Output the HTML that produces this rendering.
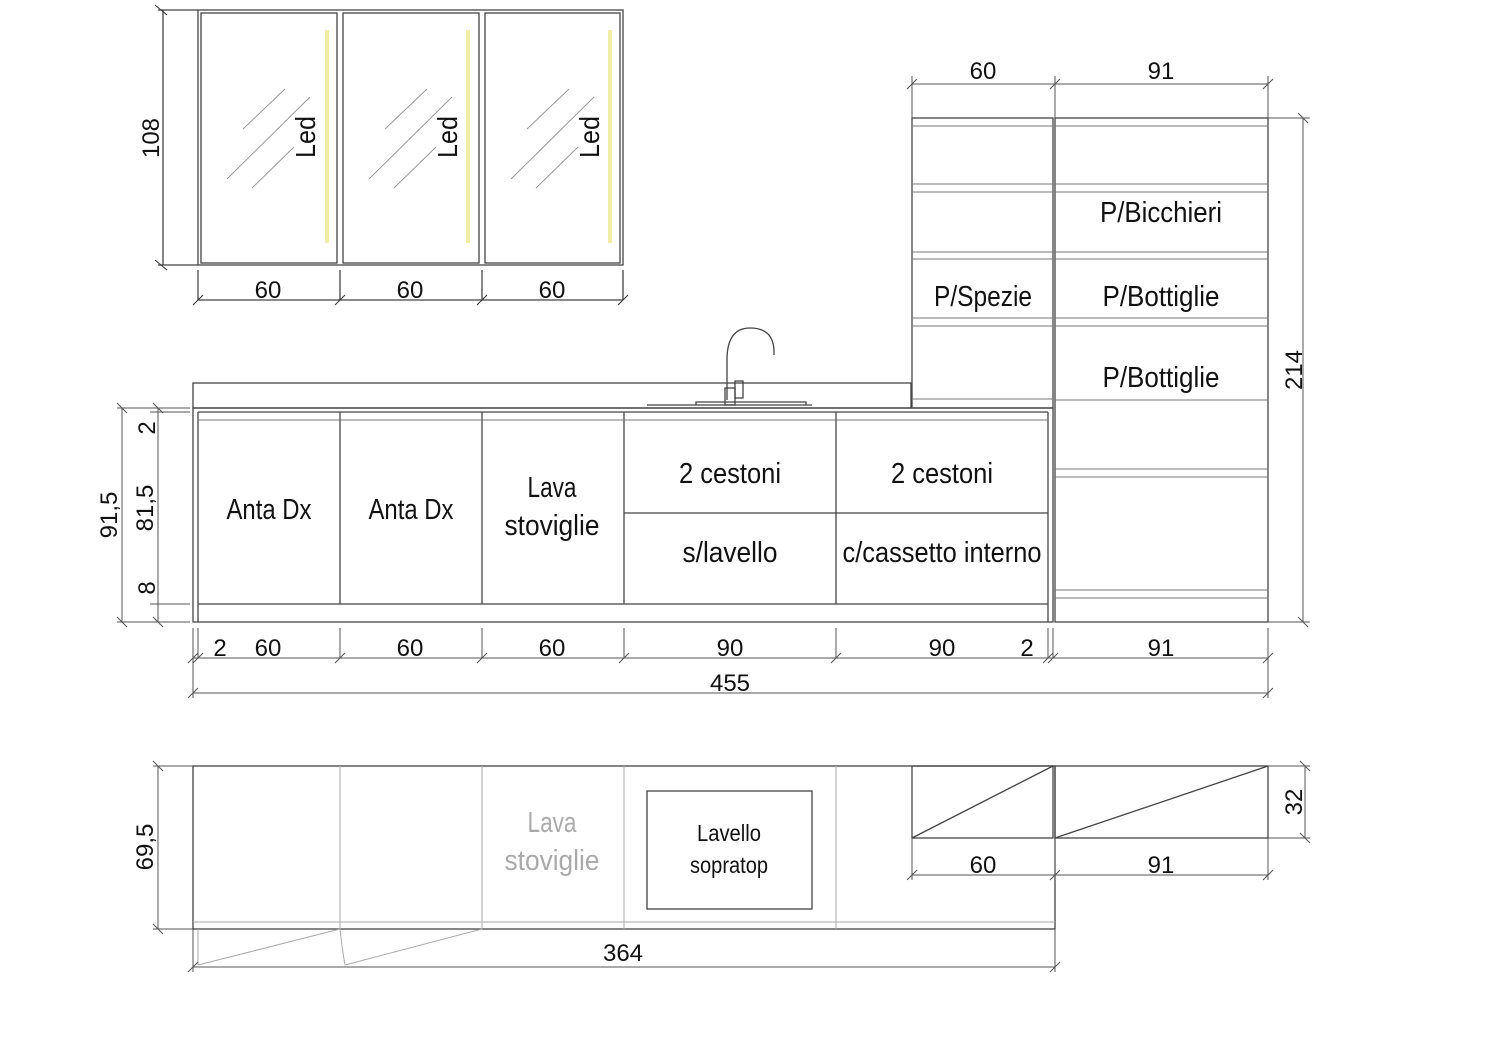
<!DOCTYPE html>
<html><head><meta charset="utf-8"><style>
html,body{margin:0;padding:0;background:#fff}
svg{display:block}
text{font-family:"Liberation Sans",sans-serif;fill:#111}
</style></head><body>
<svg width="1485" height="1047" viewBox="0 0 1485 1047" xmlns="http://www.w3.org/2000/svg">
<g fill="none" stroke="#444" stroke-width="1.3">
<rect x="198" y="10" width="425" height="255"/>
<rect x="201" y="13" width="136" height="250"/>
<rect x="343" y="13" width="136" height="250"/>
<rect x="485" y="13" width="135" height="250"/>
<line x1="163" y1="10" x2="163" y2="265"/><line x1="158" y1="10" x2="198" y2="10"/><line x1="158" y1="265" x2="198" y2="265"/>
<line x1="198" y1="300" x2="623" y2="300"/>
<line x1="198" y1="270" x2="198" y2="300"/><line x1="340" y1="270" x2="340" y2="300"/><line x1="482" y1="270" x2="482" y2="300"/><line x1="623" y1="270" x2="623" y2="300"/>
</g>
<g stroke="#f0eda8" stroke-width="4"><line x1="327" y1="30" x2="327" y2="243"/><line x1="468" y1="30" x2="468" y2="243"/><line x1="610" y1="30" x2="610" y2="243"/></g>
<g stroke="#999" stroke-width="1">
<path d="M243 129 L285 89 M227 179 L310 97 M252 188 L294 147"/>
<path d="M385 129 L427 89 M369 179 L452 97 M394 188 L436 147"/>
<path d="M527 129 L569 89 M511 179 L594 97 M536 188 L578 147"/>
</g>
<g stroke="#333" stroke-width="1"><path d="M155 5 l12 10 M155 260 l12 10 M193 305 l10 -10 M335 305 l10 -10 M477 305 l10 -10 M618 305 l10 -10"/></g>
<g font-size="24" text-anchor="middle">
<text x="268" y="298">60</text><text x="410" y="298">60</text><text x="552" y="298">60</text>
<text transform="translate(159,138) rotate(-90)">108</text>
<text font-size="28" textLength="42" lengthAdjust="spacingAndGlyphs" transform="translate(315,137) rotate(-90)">Led</text>
<text font-size="28" textLength="42" lengthAdjust="spacingAndGlyphs" transform="translate(457,137) rotate(-90)">Led</text>
<text font-size="28" textLength="42" lengthAdjust="spacingAndGlyphs" transform="translate(599,137) rotate(-90)">Led</text>
</g>
<g fill="none" stroke="#444" stroke-width="1.3">
<rect x="193" y="383" width="718" height="25"/>
<rect x="193" y="408" width="860" height="214"/>
<line x1="198" y1="412" x2="1048" y2="412"/>
<line x1="198" y1="412" x2="198" y2="622"/>
<line x1="1048" y1="412" x2="1048" y2="622"/>
<line x1="198" y1="604" x2="1048" y2="604"/>
<line x1="340" y1="412" x2="340" y2="604"/><line x1="482" y1="412" x2="482" y2="604"/><line x1="624" y1="412" x2="624" y2="604"/><line x1="836" y1="412" x2="836" y2="604"/>
<line x1="624" y1="513" x2="1048" y2="513"/>
<line x1="647" y1="405" x2="812" y2="405"/>
<path d="M696 405 V402 H806 V405"/>
<path d="M697 400 L697 360 Q697 328 720 328 Q744 328 744 352 L744 355" transform="translate(30,0)"/>
<rect x="725" y="388" width="10" height="17"/><rect x="735" y="381" width="8" height="17"/>
<rect x="912" y="118" width="141" height="290"/>
<rect x="1055" y="118" width="213" height="504"/>
</g>
<g stroke="#777" stroke-width="1" fill="none">
<line x1="198" y1="420" x2="1048" y2="420"/>
<path d="M912 126H1053M912 184H1053M912 192H1053M912 252H1053M912 259H1053M912 318H1053M912 326H1053M912 399H1053"/>
<path d="M1055 126H1268M1055 184H1268M1055 192H1268M1055 252H1268M1055 259H1268M1055 318H1268M1055 326H1268M1055 400H1268M1055 469H1268M1055 477H1268M1055 590H1268M1055 598H1268"/>
</g>
<g fill="none" stroke="#555" stroke-width="1">
<line x1="912" y1="84" x2="1268" y2="84"/><line x1="912" y1="76" x2="912" y2="118"/><line x1="1055" y1="76" x2="1055" y2="118"/><line x1="1268" y1="76" x2="1268" y2="118"/>
<line x1="1303" y1="118" x2="1303" y2="622"/><line x1="1268" y1="118" x2="1310" y2="118"/><line x1="1268" y1="622" x2="1310" y2="622"/>
<line x1="193" y1="658" x2="1268" y2="658"/><line x1="193" y1="693" x2="1268" y2="693"/>
<path d="M193 628V698M198 628V658M340 628V658M482 628V658M624 628V658M836 628V658M1048 628V658M1053 628V658M1268 628V698"/>
<line x1="122" y1="408" x2="122" y2="622"/><line x1="158" y1="408" x2="158" y2="622"/>
<path d="M117 408H190M150 412H190M150 604H190M117 622H190"/>
<path d="M188 663l10-10M193 663l10-10M335 663l10-10M477 663l10-10M619 663l10-10M831 663l10-10M1043 663l10-10M1048 663l10-10M1263 663l10-10M188 698l10-10M1263 698l10-10M907 89l10-10M1050 89l10-10M1263 89l10-10M117 403l10 10M117 617l10 10M153 403l10 10M153 617l10 10M1298 113l10 10M1298 617l10 10"/>
</g>
<g font-size="24" text-anchor="middle">
<text x="983" y="79">60</text><text x="1161" y="79">91</text>
<text x="220" y="656">2</text><text x="268" y="656">60</text><text x="410" y="656">60</text><text x="552" y="656">60</text><text x="730" y="656">90</text><text x="942" y="656">90</text><text x="1027" y="656">2</text><text x="1161" y="656">91</text>
<text x="730" y="691">455</text>
<text transform="translate(1302,370) rotate(-90)">214</text>
<text transform="translate(117,515) rotate(-90)">91,5</text>
<text transform="translate(153,508) rotate(-90)">81,5</text>
<text transform="translate(155,428) rotate(-90)">2</text>
<text transform="translate(155,588) rotate(-90)">8</text>
</g>
<g font-size="29" text-anchor="middle" lengthAdjust="spacingAndGlyphs">
<text x="269" y="519" textLength="85" lengthAdjust="spacingAndGlyphs">Anta Dx</text>
<text x="411" y="519" textLength="85" lengthAdjust="spacingAndGlyphs">Anta Dx</text>
<text x="552" y="497" textLength="49" lengthAdjust="spacingAndGlyphs">Lava</text>
<text x="552" y="535" textLength="95" lengthAdjust="spacingAndGlyphs">stoviglie</text>
<text x="730" y="483" textLength="102" lengthAdjust="spacingAndGlyphs">2 cestoni</text>
<text x="942" y="483" textLength="102" lengthAdjust="spacingAndGlyphs">2 cestoni</text>
<text x="730" y="562" textLength="95" lengthAdjust="spacingAndGlyphs">s/lavello</text>
<text x="942" y="562" textLength="199" lengthAdjust="spacingAndGlyphs">c/cassetto interno</text>
<text x="983" y="306" textLength="98" lengthAdjust="spacingAndGlyphs">P/Spezie</text>
<text x="1161" y="222" textLength="122" lengthAdjust="spacingAndGlyphs">P/Bicchieri</text>
<text x="1161" y="306" textLength="117" lengthAdjust="spacingAndGlyphs">P/Bottiglie</text>
<text x="1161" y="387" textLength="117" lengthAdjust="spacingAndGlyphs">P/Bottiglie</text>
</g>
<g fill="none" stroke="#444" stroke-width="1.3">
<rect x="193" y="766" width="862" height="163"/>
<rect x="647" y="791" width="165" height="118"/>
<rect x="912" y="766" width="141" height="72"/><rect x="1055" y="766" width="213" height="72"/>
<path d="M912 838L1053 766M1055 838L1268 766"/>
</g>
<g fill="none" stroke="#aaa" stroke-width="1">
<path d="M193 922H1055M340 766V929M482 766V929M624 766V929M836 766V929M198 965L340 929M345 965L482 929M198 929V965M340 929Q342 948 345 965"/>
</g>
<g fill="none" stroke="#555" stroke-width="1">
<line x1="912" y1="875" x2="1268" y2="875"/><path d="M912 838V880M1055 838V880M1268 838V880"/>
<line x1="1305" y1="766" x2="1305" y2="838"/><path d="M1268 766H1310M1268 838H1310"/>
<line x1="158" y1="766" x2="158" y2="929"/><path d="M153 766H193M153 929H193"/>
<line x1="193" y1="967" x2="1055" y2="967"/><path d="M193 929V972M1055 929V972"/>
<path d="M907 880l10-10M1050 880l10-10M1263 880l10-10M1300 761l10 10M1300 833l10 10M153 761l10 10M153 924l10 10M188 972l10-10M1050 972l10-10"/>
</g>
<g font-size="24" text-anchor="middle">
<text x="983" y="873">60</text><text x="1161" y="873">91</text>
<text transform="translate(1302,802) rotate(-90)">32</text>
<text transform="translate(153,847) rotate(-90)">69,5</text>
<text x="623" y="961">364</text>
</g>
<g text-anchor="middle">
<text font-size="29" x="552" y="832" textLength="49" lengthAdjust="spacingAndGlyphs" style="fill:#aaa">Lava</text>
<text font-size="29" x="552" y="870" textLength="95" lengthAdjust="spacingAndGlyphs" style="fill:#aaa">stoviglie</text>
<text font-size="23" x="729" y="841" textLength="64" lengthAdjust="spacingAndGlyphs">Lavello</text>
<text font-size="23" x="729" y="873" textLength="78" lengthAdjust="spacingAndGlyphs">sopratop</text>
</g>
</svg>
</body></html>
